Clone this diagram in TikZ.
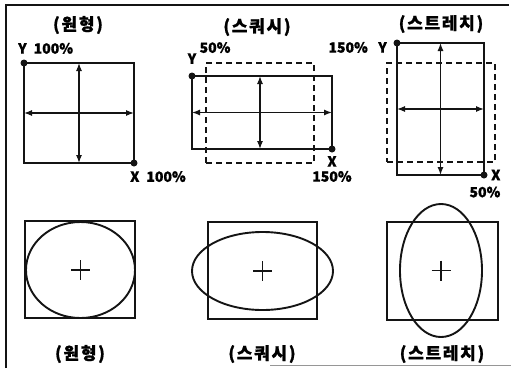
\documentclass[tikz,border=0pt]{standalone}
\usepackage{fontspec}
\setmainfont{Noto Sans CJK KR}
\usetikzlibrary{arrows.meta,positioning}
\definecolor{inkblk}{RGB}{20,20,20}
\definecolor{scangray}{RGB}{150,150,150}
\tikzset{
  box/.style={draw=inkblk, line width=1.9pt, inner sep=0pt, outer sep=0pt},
  oldbox/.style={box, dash pattern=on 6pt off 4pt},
  dimarr/.style={{Latex[length=8pt,width=6pt]}-{Latex[length=8pt,width=6pt]}, inkblk, line width=1.2pt},
  hdot/.style={circle, fill=inkblk, inner sep=0pt, minimum size=7pt},
  ttl/.style={font=\fontsize{17}{19}\selectfont\bfseries\addfontfeature{LetterSpace=10,FakeBold=1}, inner sep=0pt},
  lbl/.style={font=\fontsize{14}{16}\selectfont\bfseries\addfontfeature{FakeBold=1}, inner sep=0pt},
  shp/.style={inkblk, line width=1.9pt},
}

\begin{document}
\begin{tikzpicture}[x=1pt, y=-1pt]
    \useasboundingbox (0,0) rectangle (515,368);
    % frame of the scan
    \draw[inkblk, line width=1.3pt] (6,368) -- (6,5) -- (509,5);
    \draw[scangray, line width=1pt] (270,365) -- (511,365);

    % original
    \node[ttl] (t1) at (78,25) {(원형)};
    \node[box, minimum width=110, minimum height=100] (r1) at (79,113) {};
    \draw[dimarr] (r1.north) -- (r1.south);
    \draw[dimarr] (r1.west) -- (r1.east);
    \node[hdot] (p1y) at (r1.north west) {};
    \node[hdot] (p1x) at (r1.south east) {};
    \node[lbl, above right=9pt and -6pt of r1.north west] (ly1) {Y\enspace 100\%};
    \node[lbl, below right=8pt and -4pt of r1.south east] (lx1) {X\enspace 100\%};

    % squash
    \node[ttl] (t2) at (257,27) {(스쿼시)};
    \node[oldbox, minimum width=108, minimum height=100] (d2) at (260,113) {};
    \node[box, minimum width=140, minimum height=73] (s2) at (262,112.5) {};
    \draw[dimarr] (d2.center |- s2.north) -- (d2.center |- s2.south);
    \draw[dimarr] (s2.west) -- (s2.east);
    \node[hdot] (p2y) at (s2.north west) {};
    \node[hdot] (p2x) at (s2.south east) {};
    \node[lbl, above=12pt of s2.north west] (ly2) {Y};
    \node[lbl, above right=0pt and 3pt of ly2.north east] (ly2v) {50\%};
    \node[lbl, below=7pt of s2.south east] (lx2) {X};
    \node[lbl, below=4pt of lx2] (lx2v) {150\%};

    % stretch
    \node[ttl] (t3) at (441,24) {(스트레치)};
    \node[oldbox, minimum width=108, minimum height=99] (d3) at (441,112.5) {};
    \node[box, minimum width=87, minimum height=132] (s3) at (440.5,109) {};
    \draw[dimarr] (s3.north) -- (s3.south);
    \draw[dimarr] (s3.west) -- (s3.east);
    \node[hdot] (p3y) at (s3.north west) {};
    \node[hdot] (p3x) at (s3.south east) {};
    \node[lbl, below left=-1pt and 10pt of s3.north west] (ly3) {Y};
    \node[lbl, left=10pt of ly3] (ly3v) {150\%};
    \node[lbl, right=7pt of s3.south east] (lx3) {X};
    \node[lbl, below left=6pt and 0pt of lx3.south east] (lx3v) {50\%};

    % bottom row: frame, ellipse, centre mark
    \foreach \nm/\bx/\by/\bw/\bh/\ex/\ey/\rx/\ry in {
        1/80/269.5/110/97/80.5/270/54.5/48,
        2/262.5/270.5/109/97/262.5/271/70.5/39,
        3/442.5/271/111/98/441/270.5/41/66.5}{
      \node[box, minimum width=\bw, minimum height=\bh] (b\nm) at (\bx,\by) {};
      \coordinate (e\nm) at (\ex,\ey);
      \draw[shp] (e\nm) ellipse [x radius=\rx pt, y radius=\ry pt];
      \draw[shp] (e\nm) ++(-9.5,0) -- ++(19,0) (e\nm) ++(0,-10) -- ++(0,20);
    }
    \node[ttl] (c1) at (80,354) {(원형)};
    \node[ttl] (c2) at (262,354) {(스쿼시)};
    \node[ttl] (c3) at (442,354) {(스트레치)};
\end{tikzpicture}
\end{document}
